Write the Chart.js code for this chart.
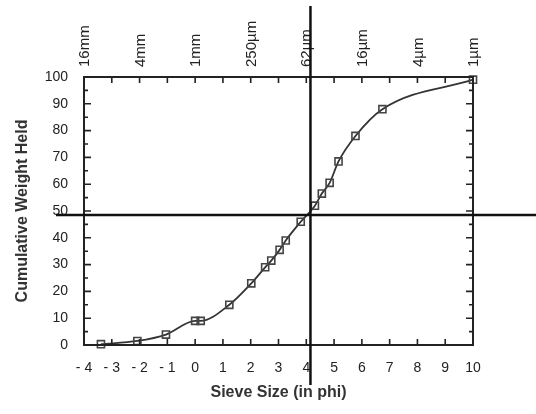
<!DOCTYPE html>
<html><head><meta charset="utf-8">
<script src="https://cdn.jsdelivr.net/npm/chart.js@4.4.0/dist/chart.umd.min.js"></script>
<style>html,body{margin:0;padding:0;background:#fff;}#wrap{width:536px;height:414px;position:relative}</style>
</head><body><div id="wrap"><canvas id="c" width="536" height="414"></canvas></div>
<script>
const phiValues = [-3.39, -2.08, -1.05, 0.0, 0.2, 1.23, 2.02, 2.52, 2.74, 3.04, 3.26, 3.80, 4.31, 4.56, 4.84, 5.16, 5.77, 6.74, 10.0];
const weightHeld = [0.3, 1.5, 3.9, 9.0, 9.0, 15, 23, 29, 31.5, 35.5, 39, 46, 52, 56.5, 60.5, 68.5, 78, 88, 99];
const bottomTickValues = [-4, -3, -2, -1, 0, 1, 2, 3, 4, 5, 6, 7, 8, 9, 10];
const bottomTickLabels = ['- 4', '- 3', '- 2', '- 1', '0', '1', '2', '3', '4', '5', '6', '7', '8', '9', '10'];
const topTickValues = [-4, -2, 0, 2, 4, 6, 8, 10];
const topTickLabels = ['16mm', '4mm', '1mm', '250µm', '62µm', '16µm', '4µm', '1µm'];
const yTickValues = [0, 10, 20, 30, 40, 50, 60, 70, 80, 90, 100];
const crossPhi = 4.15;
const crossWeight = 48.5;

const INK = '#222';
const FONT = "'Liberation Sans', Arial, Helvetica, sans-serif";

const framePlugin = {
  id: 'frame',
  afterDraw(chart) {
    const ctx = chart.ctx;
    const a = chart.chartArea;
    const xs = chart.scales.x, ys = chart.scales.y;
    ctx.save();
    ctx.strokeStyle = INK;
    ctx.lineWidth = 2;
    ctx.strokeRect(a.left, a.top, a.right - a.left, a.bottom - a.top);
    ctx.lineWidth = 1.6;
    ctx.beginPath();
    for (const v of bottomTickValues) {
      if (v === bottomTickValues[0] || v === bottomTickValues[bottomTickValues.length - 1]) continue;
      const px = xs.getPixelForValue(v);
      ctx.moveTo(px, a.bottom); ctx.lineTo(px, a.bottom - 6);
      ctx.moveTo(px, a.top); ctx.lineTo(px, a.top + 6);
    }
    for (let v = 5; v < 100; v += 5) {
      const py = ys.getPixelForValue(v);
      const len = (v % 10 === 0) ? 7 : 4;
      ctx.moveTo(a.left, py); ctx.lineTo(a.left + len, py);
      ctx.moveTo(a.right, py); ctx.lineTo(a.right - len, py);
    }
    ctx.stroke();
    // cross lines
    ctx.strokeStyle = '#111';
    ctx.lineWidth = 2.5;
    ctx.beginPath();
    const cx = xs.getPixelForValue(crossPhi);
    const cy = ys.getPixelForValue(crossWeight);
    ctx.moveTo(cx, 6); ctx.lineTo(cx, 385);
    ctx.moveTo(56, cy); ctx.lineTo(536, cy);
    ctx.stroke();
    ctx.restore();
  }
};

new Chart(document.getElementById('c'), {
  type: 'scatter',
  data: {
    datasets: [{
      data: phiValues.map((p, i) => ({x: p, y: weightHeld[i]})),
      showLine: true,
      borderColor: '#333',
      borderWidth: 1.8,
      tension: 0.4,
      cubicInterpolationMode: 'monotone',
      pointStyle: 'rect',
      pointRadius: 5,
      pointBorderWidth: 1.6,
      pointBorderColor: '#444',
      pointBackgroundColor: 'rgba(0,0,0,0)',
      clip: false
    }]
  },
  options: {
    responsive: false,
    animation: false,
    layout: {padding: {left: 0, right: 63, top: 0, bottom: 0}},
    plugins: {legend: {display: false}, tooltip: {enabled: false}},
    scales: {
      x: {
        type: 'linear', position: 'bottom', min: -4, max: 10,
        afterBuildTicks: s => { s.ticks = bottomTickValues.map(v => ({value: v})); },
        afterFit: s => { s.height = 69; },
        grid: {display: false}, border: {display: false},
        ticks: {
          autoSkip: false, maxRotation: 0, padding: 7, color: INK,
          font: {family: FONT, size: 14},
          callback: v => bottomTickLabels[bottomTickValues.indexOf(v)]
        },
        title: {display: true, text: 'Sieve Size (in phi)', color: '#333',
          font: {family: FONT, size: 16, weight: 'bold'}, padding: {top: 0, bottom: 12}}
      },
      x2: {
        type: 'linear', position: 'top', min: -4, max: 10,
        afterBuildTicks: s => { s.ticks = topTickValues.map(v => ({value: v})); },
        afterFit: s => { s.height = 77; },
        grid: {display: false}, border: {display: false},
        ticks: {
          autoSkip: false, maxRotation: 90, minRotation: 90, padding: 2, labelOffset: 19, color: INK,
          font: {family: FONT, size: 15},
          callback: v => topTickLabels[topTickValues.indexOf(v)]
        }
      },
      y: {
        type: 'linear', position: 'left', min: 0, max: 100,
        afterBuildTicks: s => { s.ticks = yTickValues.map(v => ({value: v})); },
        afterFit: s => { s.width = 84; },
        grid: {display: false}, border: {display: false},
        ticks: {padding: 8, color: INK, font: {family: FONT, size: 14}},
        title: {display: true, text: 'Cumulative Weight Held', color: '#333',
          font: {family: FONT, size: 16, weight: 'bold'}, padding: {top: 13, bottom: 0}}
      }
    }
  },
  plugins: [framePlugin]
});
</script>
</body></html>
